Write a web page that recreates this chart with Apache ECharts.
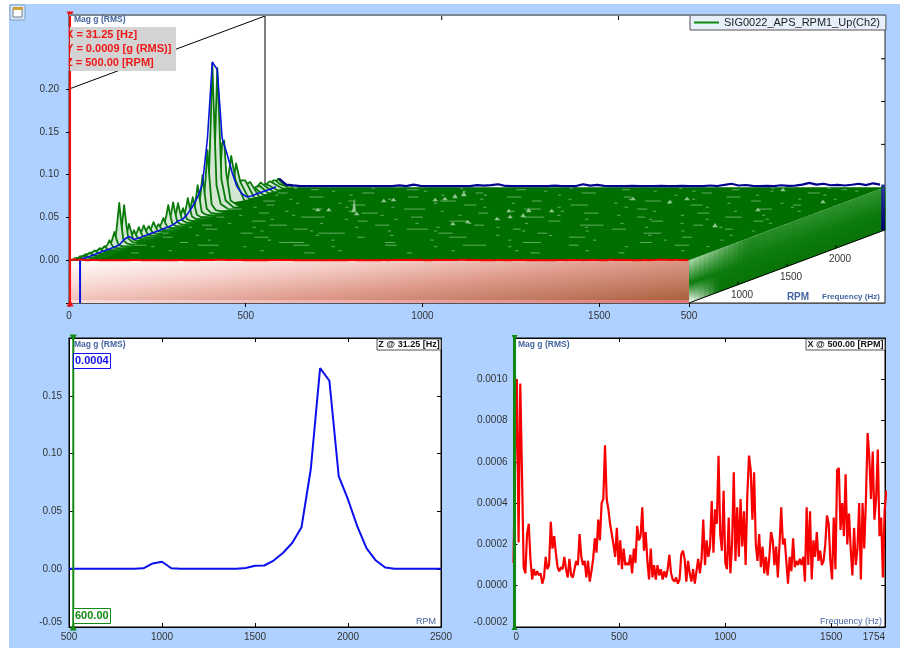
<!DOCTYPE html>
<html><head><meta charset="utf-8">
<style>html,body{margin:0;padding:0;background:#fff}
#bg{position:absolute;left:9px;top:4px;width:891px;height:644px;background:#AFD1FF}
#c{position:absolute;left:0;top:0;width:902px;height:648px}</style>
<script src="https://cdn.jsdelivr.net/npm/echarts@6/dist/echarts.min.js"></script></head>
<body><div id="bg"></div><div id="c"></div>
<script>
// ---- data ----
const rpmSlices=[500,550,600,650,700,750,800,850,900,950,1000,1050,1100,1150,1200,1250,1300,1350,1400,1450,1500,1550,1600,1650,1700,1750,1800,1850,1900,1950,2000,2050,2100,2150,2200,2250,2300,2350,2400,2450,2500];
// magnitude at 31.25 Hz vs RPM, in g
const zSliceMag=[.0004,.0004,.0004,.0004,.0004,.0004,.0004,.0004,.0008,.005,.0064,.0008,.0004,.0004,.0004,.0004,.0004,.0004,.0004,.001,.003,.0032,.0075,.014,.0227,.0363,.0867,.174,.163,.0806,.0603,.037,.018,.0075,.0015,.0004,.0004,.0004,.0004,.0004,.0004];
// spectrum at 500 RPM, 8 Hz bins, in 1e-5 g
const spectrum500=[11,64,100,21,98,55,9,6,25,30,13,3,8,5,7,5,6,1,4,14,8,10,31,18,24,16,9,7,9,8,14,8,4,13,5,4,8,12,10,25,14,10,12,4,12,2,7,13,23,16,32,22,40,42,68,42,37,30,25,20,14,28,10,22,8,18,10,11,10,15,6,18,11,29,22,24,38,17,26,12,3,18,4,10,3,10,5,8,3,7,4,8,15,6,3,2,4,1,3,15,17,13,2,12,6,2,8,1,7,13,6,13,32,10,22,14,19,41,16,37,30,63,25,17,46,11,8,33,6,20,55,12,38,14,42,19,36,10,44,63,56,32,55,20,12,25,9,19,6,14,5,14,26,22,10,19,4,20,38,20,23,12,1,14,7,23,9,12,10,13,10,14,2,38,10,36,3,22,14,26,12,17,10,12,20,34,30,12,3,33,8,56,57,27,40,24,54,20,35,18,5,28,10,18,40,3,40,18,42,74,62,42,65,32,42,66,24,33,4,36,46];
const spectrumBinHz=8;
// waterfall slices: mg at these frequencies, one row per RPM slice
const sliceFreqs=[0,20,26,31.25,37,43,55,80];
const sliceMags=[[0,.5,1,1,1,.5,0,0],[0,1,2,2.6,2,1,0,0],[0,1,3,4,3,1,0,0],[0,1,3,5,3,1,0,0],[0,1,3,5.5,3,1,0,0],[0,1,3,5.7,3,1,0,0],[0,2,6,10.5,6,2,1,0],[0,3,10,18,10,3,1,0],[0,6,28,50,26,6,2,0],[0,6,25,45,24,6,2,0],[0,3,12,21,12,3,1,0],[0,2,6,11.6,6,2,1,0],[0,2,7,13,7,2,1,0],[0,2,7,13,7,2,1,0],[0,2,6,10,6,2,1,0],[0,2,7,12.4,7,2,1,0],[0,1,4,8,4,1,0,0],[0,2,7,13,7,2,1,0],[0,4,14,26,14,4,1,0],[0,4,15,27,15,4,1,0],[0,4,13,24,13,4,1,0],[0,3,9,16,9,3,1,0],[0,4,14,25.6,14,4,1,0],[0,4,14,24.6,14,4,1,0],[0,5,20,36.5,20,5,2,0],[0,7,25,46,25,7,2,0],[0,10,40,73,40,10,3,0],[0,22,95,173,100,30,8,1],[0,20,90,165,105,35,10,1],[0,8,40,75,78,40,8,1],[0,3,10,25,40,58,30,6],[0,2,8,18,30,47,25,5],[0,2,6,12,18,25,25,5],[0,1,4,8,12,18,21,4],[0,1,3,5,8,10,12,3],[0,1,3,6,9,11,12,3],[0,1,4,8,11,14,10,3],[0,1,3,6,8,10,8,2],[0,1,3,7,10,11,8,2],[0,1,3,6,10,10,6,2],[0,1,3,6,10,7,3,1]];
// scattered small peaks on the waterfall: freq Hz, rpm, mag g
const bumpFreq=[427,441,332,363,472,450,470,621,631,608,588,847,820,907,958,929,936,1001,880,1140,1577,1496,1577,1293,1700,1267];
const bumpRpm=[1870,1815,1842,1842,1733,2089,2116,2199,2253,2143,2116,1514,1459,1596,1678,1650,1815,1815,1815,2143,1404,2390,1842,2143,2062,2062];
const bumpMag=[.014,.005,.004,.004,.004,.004,.004,.005,.006,.004,.004,.004,.004,.004,.005,.004,.005,.004,.004,.004,.005,.004,.004,.004,.004,.004];
// light gaps between slices: rpm, then freq/length pairs
const gapRows=[[700,120,22,340,14,610,30,900,16,1250,26,1500,16],[911,70,36,250,60,520,46,780,34,1000,66,1300,28,1600,40],[985,180,22,460,70,760,28,1150,50,1480,34],[1130,90,28,350,40,640,22,900,50,1240,46,1560,28],[1240,60,16,280,34,500,75,840,40,1120,28,1420,50],[1350,150,34,400,40,720,60,1020,22,1300,40,1620,22],[1460,110,28,300,50,600,40,880,28,1180,66,1500,28],[1570,220,40,520,28,780,50,1060,34,1350,34,1640,28],[1680,90,22,330,66,640,34,960,56,1280,22,1530,46],[1790,180,28,470,46,800,28,1100,40,1420,34],[1900,60,40,300,28,560,60,900,46,1220,28,1560,40],[2010,140,22,380,40,700,34,1000,50,1340,34,1630,22],[2120,100,34,340,22,600,46,860,28,1180,46,1480,28],[2230,200,40,480,28,760,40,1090,22,1380,40],[2340,80,28,320,34,640,22,940,40,1280,28,1580,34],[2430,150,22,420,34,730,28,1030,22,1340,22,1650,16]];
// short specks: rpm, then frequencies
const speckRows=[[760,210,470,690,1010,1190,1390,1660],[870,130,390,640,930,1140,1470,1700],[1050,240,410,590,870,1090,1330,1530,1690],[1180,170,510,720,1020,1170,1450,1680],[1300,320,460,680,810,1060,1240,1510,1710],[1400,90,270,560,790,960,1210,1380,1590],[1510,170,430,700,850,1010,1280,1450,1700],[1620,260,470,610,900,1150,1330,1490,1660],[1730,140,290,540,760,1040,1210,1390,1620],[1840,240,420,680,880,1020,1280,1510,1690],[1950,120,380,510,770,980,1170,1400,1640],[2060,210,330,600,820,1110,1260,1430,1580],[2170,160,440,700,950,1120,1300,1600,1700],[2280,90,300,560,680,890,1220,1450,1640],[2390,220,480,590,820,1130,1240,1460,1700],[2470,90,310,560,870,1180,1440,1600]];
const speckLenHz=9;
// back slice (2500 RPM), 20 Hz bins, mg
const backMag=[0,0,10,3,2,1.2,1.3,1.1,1.2,1.3,1.1,1.2,1.1,1.3,1.1,1.2,1.3,1.1,1.2,2,1.2,3,1.4,1.1,1.2,1.1,1.2,1.3,1.2,1.3,2.4,1.8,2.4,3.4,1.4,1.2,1.1,1.2,1.1,1.3,1.2,1.8,1.3,1.1,1.3,3.4,1.8,2.6,1.4,1.2,1.3,1.1,1.5,1.2,1.3,1.1,1.6,1.3,1.1,1.4,1.2,1.1,1.3,1.9,1.3,2.6,4,1.9,2.5,1.4,1.2,1.5,1.3,2.2,1.4,1.8,3,5,3,4,2.2,2.6,1.9,2.8,4,2.4,4.5,3];
const backBinHz=20;
const topFreqTicks=[0,500,1000,1500,1754];
const topMagTicks=[-0.05,0,0.05,0.1,0.15,0.2];
const backFreqTicks=[500,1000,1500];
const backMagTicks=[0.05,0.1,0.15];
const rpmTicks=[1000,1500,2000];
const rightFreqTicks=[0,500,1000,1500,1754];
const cursorHz=3, zCursorRpm=523, xCursorHz=5, sliceHz=31.25;
const seriesName='SIG0022_APS_RPM1_Up(Ch2)';

// ---- waterfall shear, expressed in axis units ----
const fMax=1754, topXMax=fMax*816/620, topYMax=245/855;
const xShear=(topXMax-fMax)/2000, yShear=(73/855)/2000;
const P=(f,rpm,m)=>[f+(rpm-500)*xShear,m+(rpm-500)*yShear];

const FONT='"Liberation Sans",Arial,sans-serif';
const labelStyle={color:'#333',fontSize:10,fontFamily:FONT};
const blackLine={lineStyle:{color:'#000',width:1}};
const frameLine={onZero:false,lineStyle:{color:'#000',width:1}};
const GREEN='#006f00', TITLE='#4464a0';
const plain=v=>String(v);
function mix(a,b,t){return 'rgb('+a.map((v,i)=>Math.round(v+(b[i]-v)*t)).join(',')+')';}

function layer(z,fn,name){return {type:'custom',name:name||('l'+z),xAxisIndex:0,yAxisIndex:0,z:z,silent:true,data:[[0,0]],clip:false,
  itemStyle:{color:'#0a8a0a'},renderItem:(p,api)=>({type:'group',children:fn(api)})};}
const C=(api,f,r,m)=>api.coord(P(f,r,m));
const seg=(a,b,color,w)=>({type:'line',shape:{x1:a[0],y1:a[1],x2:b[0],y2:b[1]},style:{stroke:color,lineWidth:w}});

const option={
 animation:false,
 backgroundColor:'transparent',
 textStyle:{fontFamily:FONT},
 grid:[
  {left:69,top:15,width:816,height:288,show:true,backgroundColor:'#fff',borderColor:'#222',borderWidth:1},
  {left:69,top:338,width:372,height:289,show:true,backgroundColor:'#fff',borderColor:'#000',borderWidth:1},
  {left:513.5,top:338,width:371.5,height:289,show:true,backgroundColor:'#fff',borderColor:'#000',borderWidth:1}
 ],
 legend:{show:true,data:[seriesName],left:690,top:15,itemWidth:25,itemHeight:2,icon:'rect',itemGap:0,
  backgroundColor:'#e6effa',borderColor:'#555',borderWidth:1,padding:[2,6,2,4],borderRadius:0,
  textStyle:{fontSize:11,color:'#222',fontFamily:FONT},selectedMode:false},
 xAxis:[
  {gridIndex:0,type:'value',min:0,max:topXMax,axisLine:{onZero:false,lineStyle:{color:'#555',width:1}},splitLine:{show:false},
   axisTick:{show:true,length:4,customValues:topFreqTicks,...blackLine},
   axisLabel:{...labelStyle,margin:8,customValues:topFreqTicks,formatter:v=>v===1754?'500':String(v)}},
  {gridIndex:1,type:'value',min:500,max:2500,interval:500,splitLine:{show:false},axisLine:frameLine,
   axisTick:{inside:true,length:4,...blackLine},axisLabel:{...labelStyle,margin:5,formatter:plain}},
  {gridIndex:1,type:'value',position:'top',min:500,max:2500,interval:500,splitLine:{show:false},axisLine:frameLine,
   axisTick:{inside:true,length:4,...blackLine},axisLabel:{show:false}},
  {gridIndex:2,type:'value',min:0,max:fMax,splitLine:{show:false},axisLine:frameLine,
   axisTick:{inside:true,length:4,customValues:rightFreqTicks,...blackLine},
   axisLabel:{...labelStyle,margin:5,customValues:rightFreqTicks,alignMinLabel:'left',alignMaxLabel:'right',formatter:plain}},
  {gridIndex:2,type:'value',position:'top',min:0,max:fMax,splitLine:{show:false},axisLine:frameLine,
   axisTick:{inside:true,length:4,customValues:rightFreqTicks,...blackLine},axisLabel:{show:false}}
 ],
 yAxis:[
  {gridIndex:0,type:'value',min:-0.05,max:topYMax,splitLine:{show:false},axisLine:{show:true,...frameLine},
   axisTick:{show:true,length:3,customValues:topMagTicks,...blackLine},
   axisLabel:{...labelStyle,margin:10,customValues:topMagTicks.slice(1),formatter:v=>v.toFixed(2)}},
  {gridIndex:1,type:'value',min:-0.05,max:0.2,interval:0.05,splitLine:{show:false},axisLine:{show:true,...frameLine},
   axisTick:{show:true,inside:true,length:4,...blackLine},
   axisLabel:{...labelStyle,margin:7,showMaxLabel:false,verticalAlignMinLabel:'bottom',formatter:v=>v.toFixed(2)}},
  {gridIndex:1,type:'value',position:'right',min:-0.05,max:0.2,interval:0.05,splitLine:{show:false},axisLine:{show:true,...frameLine},
   axisTick:{show:true,inside:true,length:4,...blackLine},axisLabel:{show:false}},
  {gridIndex:2,type:'value',min:-0.0002,max:0.0012,interval:0.0002,splitLine:{show:false},axisLine:{show:true,...frameLine},
   axisTick:{show:true,inside:true,length:4,...blackLine},
   axisLabel:{...labelStyle,margin:6,showMaxLabel:false,verticalAlignMinLabel:'bottom',formatter:v=>v.toFixed(4)}},
  {gridIndex:2,type:'value',position:'right',min:-0.0002,max:0.0012,interval:0.0002,splitLine:{show:false},axisLine:{show:true,...frameLine},
   axisTick:{show:true,inside:true,length:4,...blackLine},axisLabel:{show:false}}
 ],
 series:[
  // front wall
  layer(1,api=>{const a=C(api,0,500,0),b=C(api,fMax,500,-0.05);
   return [{type:'rect',shape:{x:a[0],y:a[1],width:b[0]-a[0],height:b[1]-a[1]},style:{fill:{type:'linear',global:true,x:a[0],y:a[1],x2:a[0]+11,y2:a[1]+106,colorStops:[
     {offset:0,color:'#ffffff'},{offset:.3,color:'#f6d0ca'},{offset:.6,color:'#dc9686'},{offset:.85,color:'#bc7458'},{offset:1,color:'#a65a34'}]}}},
     {type:'rect',shape:{x:a[0],y:b[1]-3,width:b[0]-a[0],height:3},style:{fill:{type:'linear',x:0,y:0,x2:1,y2:0,colorStops:[{offset:0,color:'#f8dcdc'},{offset:1,color:'#e07878'}]}}}];}),
  // side wall strips
  layer(1,api=>{const out=[];for(let i=0;i<rpmSlices.length-1;i++){const t=i/(rpmSlices.length-2);
    const a=C(api,fMax,rpmSlices[i],0),b=C(api,fMax,rpmSlices[i+1],0),c=C(api,fMax,rpmSlices[i+1],-0.05),d=C(api,fMax,rpmSlices[i],-0.05);
    const top=t<.3?mix([176,222,176],[40,140,40],t/.3):mix([40,140,40],[50,150,50],(t-.3)/.7);
    const bot=t<.14?mix([255,255,255],[8,115,8],t/.14):'#087308';
    out.push({type:'polygon',shape:{points:[a,[b[0]+.8,b[1]],[c[0]+.8,c[1]],d]},style:{fill:{type:'linear',x:0,y:0,x2:0,y2:1,colorStops:[{offset:0,color:top},{offset:.55,color:'#0c7a0c'},{offset:1,color:bot}]},stroke:null}});}
    return out;}),
  // navy end cap
  layer(2,api=>{const a=C(api,fMax-11,2500,0.003),b=C(api,fMax,2500,-0.05);
   return [{type:'rect',shape:{x:a[0],y:a[1],width:b[0]-a[0],height:b[1]-a[1]},style:{fill:{type:'linear',x:0,y:0,x2:0,y2:1,colorStops:[{offset:0,color:'#2a3a9a'},{offset:1,color:'#00006a'}]}}}];}),
  // back wall lines
  layer(3,api=>{const out=[seg(C(api,0,500,0.2),C(api,0,2500,0.2),'#000',1),seg(C(api,0,2500,0),C(api,0,2500,0.2),'#000',1)];
    backFreqTicks.forEach(f=>{const a=C(api,f,2500,0.2);out.push(seg([a[0],a[1]],[a[0],a[1]+4],'#000',1));});
    backMagTicks.forEach(m=>{const a=C(api,fMax,2500,m);out.push(seg([a[0],a[1]],[a[0]-4,a[1]],'#000',1));});
    return out;}),
  // floor
  layer(4,api=>[{type:'polygon',shape:{points:[C(api,0,500,0),C(api,fMax,500,0),C(api,fMax,2500,0),C(api,0,2500,0)]},style:{fill:GREEN}}]),
  // slices, back to front
  layer(5,api=>{const out=[];for(let i=rpmSlices.length-1;i>=0;i--){const r=rpmSlices[i],row=sliceMags[i];
      const pts=sliceFreqs.map((f,k)=>C(api,f,r,row[k]/1000));
      out.push({type:'polygon',shape:{points:pts},style:{fill:'#d2e6d2',stroke:null}});
      out.push({type:'polyline',shape:{points:pts},style:{fill:null,stroke:'#087a08',lineWidth:1.8,lineJoin:'round'}});
    }
    return out;},seriesName),
  // gaps
  layer(6,api=>{const out=[];gapRows.forEach(row=>{for(let k=1;k<row.length;k+=2){
      out.push(seg(C(api,row[k],row[0],0),C(api,row[k]+row[k+1],row[0],0),'rgba(150,205,150,0.65)',1));}});
      speckRows.forEach(row=>{for(let k=1;k<row.length;k++){
      out.push(seg(C(api,row[k],row[0],0),C(api,row[k]+speckLenHz,row[0],0),'rgba(170,215,170,0.6)',1));}});
      return out;}),
  // bumps
  layer(7,api=>bumpFreq.map((f,i)=>{const w=i===0?5:8;
     return {type:'polygon',shape:{points:[C(api,f-w,bumpRpm[i],0),C(api,f,bumpRpm[i],bumpMag[i]),C(api,f+w,bumpRpm[i],0)]},style:{fill:'#8fc58f',stroke:null}};})),
  // slanted RPM axis
  layer(8,api=>{const out=[seg(C(api,fMax,500,-0.05),C(api,fMax,2500,-0.05),'#000',1)];
     rpmTicks.forEach(r=>{const a=C(api,fMax,r,-0.05);out.push(seg(a,[a[0],a[1]-3],'#000',1));
       out.push({type:'text',style:{text:String(r),x:a[0]+4,y:a[1]+11,textAlign:'center',textVerticalAlign:'middle',fill:'#333',font:'10px '+FONT}});});
     return out;}),
  // 31.25 Hz slice through the waterfall
  {type:'line',xAxisIndex:0,yAxisIndex:0,z:9,silent:true,showSymbol:false,symbol:'none',lineStyle:{color:'#0a14e0',width:1.6},
   data:rpmSlices.map((r,i)=>P(sliceHz,r,zSliceMag[i]))},
  {type:'line',xAxisIndex:0,yAxisIndex:0,z:9,silent:true,symbol:'none',lineStyle:{color:'#0a14e0',width:2},data:[[sliceHz,-0.05],[sliceHz,0]]},
  // back slice
  {type:'line',xAxisIndex:0,yAxisIndex:0,z:9,silent:true,symbol:'none',lineStyle:{color:'#00008f',width:2.2},
   data:backMag.map((m,i)=>[i*backBinHz,m]).filter(d=>d[0]>=sliceHz&&d[0]<=fMax).map(d=>P(d[0],2500,d[1]/1000))},
  // 500 RPM slice in the waterfall
  {type:'line',xAxisIndex:0,yAxisIndex:0,z:10,silent:true,symbol:'none',lineStyle:{color:'#f00000',width:2},
   data:spectrum500.map((m,i)=>[i*spectrumBinHz,m*1e-5]).filter(d=>d[0]<=fMax)},
  // red cursor
  {type:'line',xAxisIndex:0,yAxisIndex:0,z:11,silent:true,lineStyle:{color:'#f01010',width:2},symbol:'triangle',symbolSize:7,
   itemStyle:{color:'#f01010'},data:[{value:[cursorHz,topYMax],symbolRotate:180},{value:[cursorHz,-0.05],symbolRotate:0}]},
  // bottom-left
  {type:'line',xAxisIndex:1,yAxisIndex:1,z:5,silent:true,symbol:'none',lineStyle:{color:'#0a10ee',width:2},data:rpmSlices.map((r,i)=>[r,zSliceMag[i]])},
  {type:'line',xAxisIndex:1,yAxisIndex:1,z:6,silent:true,lineStyle:{color:'#118a11',width:2},symbol:'triangle',symbolSize:7,itemStyle:{color:'#118a11'},
   data:[{value:[zCursorRpm,0.2],symbolRotate:180},{value:[zCursorRpm,-0.05],symbolRotate:0}]},
  // bottom-right
  {type:'line',xAxisIndex:3,yAxisIndex:3,z:5,silent:true,symbol:'none',lineStyle:{color:'#f80000',width:2.2},data:spectrum500.map((m,i)=>[i*spectrumBinHz,m*1e-5])},
  {type:'line',xAxisIndex:3,yAxisIndex:3,z:6,silent:true,lineStyle:{color:'#118a11',width:3},symbol:'triangle',symbolSize:6,itemStyle:{color:'#118a11'},
   data:[{value:[xCursorHz,0.0012],symbolRotate:180},{value:[xCursorHz,-0.0002],symbolRotate:0}]}
 ],
 graphic:{elements:[
  // window icon
  {type:'rect',shape:{x:10,y:5,width:15,height:15,r:1},style:{fill:'#d6e6f4',stroke:'#7da0c0'},z:50},
  {type:'rect',shape:{x:13,y:9,width:9,height:8},style:{fill:'#fff',stroke:'#6a7a8a'},z:51},
  {type:'rect',shape:{x:13,y:7,width:10,height:3},style:{fill:'#d0a030'},z:52},
  // gray thick top edge
  {type:'rect',shape:{x:69,y:14,width:816,height:2},style:{fill:'#7a8794'},z:60},
  // cursor read-out
  {type:'rect',shape:{x:70,y:27,width:106,height:44},style:{fill:'#d3d3d3'},z:70},
  {type:'text',style:{text:'X = 31.25 [Hz]',x:66,y:35,textVerticalAlign:'middle',fill:'#f01818',font:'bold 11px '+FONT},z:71},
  {type:'text',style:{text:'Y = 0.0009 [g (RMS)]',x:66,y:49,textVerticalAlign:'middle',fill:'#f01818',font:'bold 11px '+FONT},z:71},
  {type:'text',style:{text:'Z = 500.00 [RPM]',x:66,y:63,textVerticalAlign:'middle',fill:'#f01818',font:'bold 11px '+FONT},z:71},
  {type:'rect',shape:{x:58,y:27,width:10.5,height:44},style:{fill:'#AFD1FF'},z:72},
  {type:'rect',shape:{x:69,y:27,width:1,height:44},style:{fill:'#f01010'},z:72},
  // titles
  {type:'text',style:{text:'Mag g (RMS)',x:74,y:20,textVerticalAlign:'middle',fill:TITLE,font:'bold 8.5px '+FONT},z:71},
  {type:'text',style:{text:'Mag g (RMS)',x:74,y:345,textVerticalAlign:'middle',fill:TITLE,font:'bold 8.5px '+FONT},z:71},
  {type:'text',style:{text:'Mag g (RMS)',x:518,y:345,textVerticalAlign:'middle',fill:TITLE,font:'bold 8.5px '+FONT},z:71},
  {type:'text',style:{text:'RPM',x:798,y:297,textAlign:'center',textVerticalAlign:'middle',fill:TITLE,font:'bold 10px '+FONT},z:71},
  {type:'text',style:{text:'Frequency (Hz)',x:851,y:297,textAlign:'center',textVerticalAlign:'middle',fill:TITLE,font:'bold 8px '+FONT},z:71},
  {type:'text',style:{text:'RPM',x:426,y:621.5,textAlign:'center',textVerticalAlign:'middle',fill:TITLE,font:'9px '+FONT},z:71},
  {type:'text',style:{text:'Frequency (Hz)',x:851,y:621.5,textAlign:'center',textVerticalAlign:'middle',fill:TITLE,font:'9px '+FONT},z:71},
  // boxed read-outs
  {type:'rect',shape:{x:73.5,y:353.5,width:37,height:15},style:{fill:'#fff',stroke:'#1010ee'},z:70},
  {type:'text',style:{text:'0.0004',x:75,y:361,textVerticalAlign:'middle',fill:'#1010ee',font:'bold 11px '+FONT},z:71},
  {type:'rect',shape:{x:73.5,y:608.5,width:37,height:15},style:{fill:'#fff',stroke:'#118a11'},z:70},
  {type:'text',style:{text:'600.00',x:75,y:616,textVerticalAlign:'middle',fill:'#118a11',font:'bold 11px '+FONT},z:71},
  {type:'rect',shape:{x:377,y:339,width:64,height:11},style:{fill:'#fff',stroke:'#555'},z:70},
  {type:'text',style:{text:'Z @ 31.25 [Hz]',x:409,y:344.5,textAlign:'center',textVerticalAlign:'middle',fill:'#111',font:'bold 9px '+FONT},z:71},
  {type:'rect',shape:{x:806,y:339,width:79,height:11},style:{fill:'#fff',stroke:'#555'},z:70},
  {type:'text',style:{text:'X @ 500.00 [RPM]',x:845.5,y:344.5,textAlign:'center',textVerticalAlign:'middle',fill:'#111',font:'bold 9px '+FONT},z:71}
 ]}
};
echarts.init(document.getElementById('c'),null,{renderer:'canvas'}).setOption(option);
</script></body></html>
